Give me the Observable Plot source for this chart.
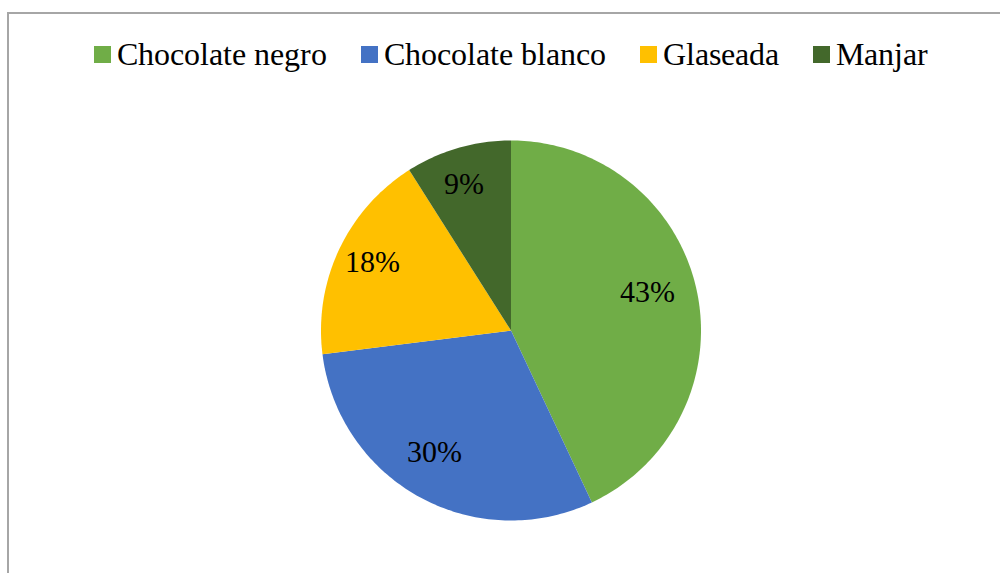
<!DOCTYPE html>
<html>
<head>
<meta charset="utf-8">
<script src="https://cdn.jsdelivr.net/npm/d3@7"></script>
<script src="https://cdn.jsdelivr.net/npm/@observablehq/plot@0.6"></script>
<style>
  @font-face { font-family: "ChartSerif"; src: local("Liberation Serif"), local("LiberationSerif"), local("LiberationSerif-Regular"), local("Times New Roman"); }
  html, body { margin: 0; padding: 0; background: #fff; font-family: "ChartSerif", "Liberation Serif", serif; }
  #wrap { position: relative; width: 1000px; height: 573px; font-family: "ChartSerif", "Liberation Serif", serif; }
  #border { position: absolute; left: 7px; top: 12px; right: 0; bottom: 0; border-left: 2px solid #a6a6a6; border-top: 2px solid #a6a6a6; }
  #legend { position: relative; height: 80px; text-align: center; padding-left: 22px; box-sizing: border-box; }
  #legend > div { display: inline-block; margin-top: 34px; font-family: "ChartSerif", "Liberation Serif", serif !important; font-size: 32px !important; }
  #legend span { font-family: "ChartSerif", "Liberation Serif", serif !important; margin-right: 34px !important; color: #000; }
  #legend span:last-child { margin-right: 0 !important; }
  #legend svg { margin-right: 6px !important; }
  #chart { position: relative; }
  #chart text { font-family: "ChartSerif", "Liberation Serif", serif !important; }
</style>
</head>
<body>
<div id="wrap">
  <div id="border"></div>
  <div id="legend"></div>
  <div id="chart"></div>
</div>
<script>
const categories = ["Chocolate negro", "Chocolate blanco", "Glaseada", "Manjar"];
const values = [43, 30, 18, 9];
const colors = ["#70AD47", "#4472C4", "#FFC000", "#43682B"];

const total = d3.sum(values);
// Slice outlines in unit-circle coordinates (clockwise from 12 o'clock)
const slices = [];
const labels = [];
let acc = 0;
categories.forEach((name, i) => {
  const a0 = acc / total * 2 * Math.PI;
  acc += values[i];
  const a1 = acc / total * 2 * Math.PI;
  slices.push({name, x: 0, y: 0});
  const n = Math.max(2, Math.ceil((a1 - a0) / (Math.PI / 180)));
  for (let k = 0; k <= n; k++) {
    const a = a0 + (a1 - a0) * k / n;
    slices.push({name, x: Math.sin(a), y: Math.cos(a)});
  }
  const am = (a0 + a1) / 2;
  labels.push({name, x: 0.77 * Math.sin(am), y: 0.77 * Math.cos(am), text: Math.round(values[i] / total * 100) + "%"});
});

const legend = Plot.legend({
  color: {domain: categories, range: colors},
  legend: "swatches",
  swatchSize: 17,
  style: {fontFamily: "ChartSerif, 'Liberation Serif', serif", fontSize: "32px", color: "#000"}
});
document.getElementById("legend").appendChild(legend);

const chart = Plot.plot({
  width: 1000,
  height: 493,
  margin: 0,
  x: {domain: [-1, 1], range: [320.5, 700.5], axis: null},
  y: {domain: [-1, 1], range: [440, 60], axis: null},
  color: {domain: categories, range: colors},
  style: {background: "transparent", fontFamily: "ChartSerif, 'Liberation Serif', serif"},
  marks: [
    Plot.line(slices, {x: "x", y: "y", z: "name", fill: "name", stroke: "none", curve: "linear-closed"}),
    Plot.text(labels, {x: "x", y: "y", text: "text", fontSize: 30, fontFamily: "ChartSerif, 'Liberation Serif', serif", dx: -6, dy: -6, fill: "#000"})
  ]
});
document.getElementById("chart").appendChild(chart);
</script>
</body>
</html>
